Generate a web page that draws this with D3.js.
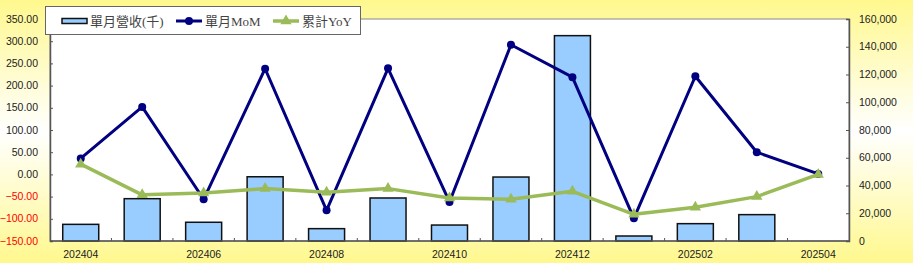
<!DOCTYPE html>
<html>
<head>
<meta charset="utf-8">
<script src="https://cdn.jsdelivr.net/npm/d3@7/dist/d3.min.js"></script>
<style>
  html, body { margin: 0; padding: 0; background: #fff; }
  svg { display: block; }
  .axis text { font-family: "Liberation Sans", Arial, sans-serif; font-size: 10.5px; fill: #222; }
  .legend text { font-family: "Liberation Serif", "Noto Sans CJK TC", serif; font-size: 13px; fill: #444; }
</style>
</head>
<body>
<svg id="chart" width="913" height="263"></svg>
<script>
'use strict';

// data
var months = ['202404', '202405', '202406', '202407', '202408', '202409', '202410',
              '202411', '202412', '202501', '202502', '202503', '202504'];
var revenue = [12000, 30500, 13500, 46300, 8900, 31000, 11500, 46100, 148000, 3600, 12500, 19000, null];
var mom = [36, 152, -56, 238, -81, 239, -62, 292, 219, -99, 221, 50, 1];
var yoy = [23, -46, -42, -32, -40, -32, -53, -56, -38, -90, -74, -50, 0];

var leftTicks = [-150, -100, -50, 0, 50, 100, 150, 200, 250, 300, 350];
var rightTicks = [0, 20000, 40000, 60000, 80000, 100000, 120000, 140000, 160000];
var seriesNames = ['單月營收(千)', '單月MoM', '累計YoY'];

var svg = d3.select('#chart');
var W = 913, H = 263;
var plot = { left: 50, right: 849, top: 19, bottom: 241 };

// background: yellow at top and bottom, white in the middle
var defs = svg.append('defs');
var grad = defs.append('linearGradient').attr('id', 'bg')
    .attr('x1', 0).attr('y1', 0).attr('x2', 0).attr('y2', 1);
grad.append('stop').attr('offset', '0%').attr('stop-color', '#fff88e');
grad.append('stop').attr('offset', '50%').attr('stop-color', '#ffffff');
grad.append('stop').attr('offset', '100%').attr('stop-color', '#fff88e');
svg.append('rect').attr('width', W).attr('height', H).attr('fill', 'url(#bg)');

// scales
var x = d3.scaleBand().domain(months).range([plot.left, plot.right]);
var yL = d3.scaleLinear().domain([-150, 350]).range([plot.bottom, plot.top]);
var yR = d3.scaleLinear().domain([0, 160000]).range([plot.bottom, plot.top]);
var cx = function(d, i) { return x(months[i]) + x.bandwidth() / 2; };

svg.append('rect')
    .attr('x', plot.left).attr('y', plot.top)
    .attr('width', plot.right - plot.left).attr('height', plot.bottom - plot.top)
    .attr('fill', '#fff').attr('stroke', '#888').attr('stroke-width', 1);

// bars (202504 has no revenue yet)
var barW = 36;
var bars = svg.append('g');
revenue.forEach(function(v, i) {
    if (v == null) return;
    bars.append('rect')
        .attr('x', cx(v, i) - barW / 2)
        .attr('y', yR(v))
        .attr('width', barW)
        .attr('height', yR(0) - yR(v))
        .attr('fill', '#99ccff')
        .attr('stroke', '#111')
        .attr('stroke-width', 1.5);
});

// axes
var leftAxis = svg.append('g').attr('class', 'axis')
    .attr('transform', 'translate(' + plot.left + ',0)')
    .call(d3.axisRight(yL).tickValues(leftTicks).tickSize(3).tickFormat(''));
leftAxis.select('.domain').attr('stroke', '#555').attr('stroke-width', 1.5);
leftAxis.selectAll('.tick line').attr('stroke', '#555');

svg.append('g').attr('class', 'axis').selectAll('text')
    .data(leftTicks)
    .enter().append('text')
    .attr('x', 38).attr('y', function(d) { return yL(d); })
    .attr('dy', '0.35em').attr('text-anchor', 'end')
    .style('fill', function(d) { return d < 0 ? '#ff0000' : '#222'; })
    .text(function(d) { return d3.format('.2f')(d); });

var rightAxis = svg.append('g').attr('class', 'axis')
    .attr('transform', 'translate(' + plot.right + ',0)')
    .call(d3.axisLeft(yR).tickValues(rightTicks).tickSize(3).tickFormat(''));
rightAxis.select('.domain').attr('stroke', '#555').attr('stroke-width', 1.5);
rightAxis.selectAll('.tick line').attr('stroke', '#555');

svg.append('g').attr('class', 'axis').selectAll('text')
    .data(rightTicks)
    .enter().append('text')
    .attr('x', 859).attr('y', function(d) { return yR(d); })
    .attr('dy', '0.35em').attr('text-anchor', 'start')
    .text(function(d) { return d3.format(',')(d); });

// bottom axis: ticks on category boundaries, labels every other month
var bottom = svg.append('g').attr('class', 'axis');
bottom.append('line')
    .attr('x1', plot.left).attr('x2', plot.right)
    .attr('y1', plot.bottom).attr('y2', plot.bottom)
    .attr('stroke', '#555').attr('stroke-width', 1.5);
bottom.selectAll('.bt')
    .data(months.slice(1))
    .enter().append('line').attr('class', 'bt')
    .attr('x1', function(d) { return x(d); }).attr('x2', function(d) { return x(d); })
    .attr('y1', plot.bottom).attr('y2', plot.bottom - 3)
    .attr('stroke', '#555');
bottom.selectAll('text')
    .data(months.filter(function(d, i) { return i % 2 === 0; }))
    .enter().append('text')
    .attr('x', function(d) { return x(d) + x.bandwidth() / 2; })
    .attr('y', 254).attr('dy', '0.35em').attr('text-anchor', 'middle')
    .text(function(d) { return d; });

// lines
var momLine = d3.line().x(cx).y(function(d) { return yL(d); });
svg.append('path').datum(mom)
    .attr('d', momLine).attr('fill', 'none')
    .attr('stroke', '#000080').attr('stroke-width', 3).attr('stroke-linejoin', 'round');
svg.append('g').selectAll('circle')
    .data(mom).enter().append('circle')
    .attr('cx', cx).attr('cy', function(d) { return yL(d); })
    .attr('r', 4).attr('fill', '#000080');

var yoyLine = d3.line().x(cx).y(function(d) { return yL(d); });
svg.append('path').datum(yoy)
    .attr('d', yoyLine).attr('fill', 'none')
    .attr('stroke', '#9bbb59').attr('stroke-width', 3.5).attr('stroke-linejoin', 'round');
var tri = d3.symbol().type(d3.symbolTriangle).size(55);
svg.append('g').selectAll('path')
    .data(yoy).enter().append('path')
    .attr('d', tri)
    .attr('transform', function(d, i) { return 'translate(' + cx(d, i) + ',' + yL(d) + ')'; })
    .attr('fill', '#9bbb59');

// legend
var lg = svg.append('g').attr('class', 'legend');
lg.append('rect').attr('x', 45.5).attr('y', 6.5).attr('width', 315).attr('height', 28)
    .attr('fill', '#fff').attr('stroke', '#666');
lg.append('rect').attr('x', 62).attr('y', 18.5).attr('width', 25).attr('height', 5)
    .attr('fill', '#99ccff').attr('stroke', '#111').attr('stroke-width', 1.5);
lg.append('line').attr('x1', 176).attr('x2', 202).attr('y1', 21).attr('y2', 21)
    .attr('stroke', '#000080').attr('stroke-width', 3);
lg.append('circle').attr('cx', 189).attr('cy', 21).attr('r', 4).attr('fill', '#000080');
lg.append('line').attr('x1', 273).attr('x2', 299).attr('y1', 21).attr('y2', 21)
    .attr('stroke', '#9bbb59').attr('stroke-width', 3.5);
lg.append('path').attr('d', tri).attr('transform', 'translate(286,21)').attr('fill', '#9bbb59');
var legendX = [90, 205, 302];
lg.selectAll('text').data(seriesNames).enter().append('text')
    .attr('x', function(d, i) { return legendX[i]; })
    .attr('y', 21).attr('dy', '0.35em')
    .text(function(d) { return d; });
</script>
</body>
</html>
